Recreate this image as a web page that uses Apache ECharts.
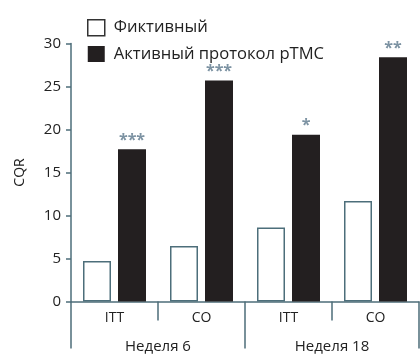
<!DOCTYPE html>
<html><head><meta charset="utf-8">
<script src="https://cdn.jsdelivr.net/npm/echarts@6/dist/echarts.min.js"></script>
<style>html,body{margin:0;padding:0;background:#fff}#c{width:420px;height:356px}</style>
</head><body><div id="c"></div>
<script>
const subCategories = ['ITT', 'CO', 'ITT', 'CO'];
const weekCategories = ['Неделя 6', 'Неделя 18'];
const seriesNames = ['Фиктивный', 'Активный протокол pTMC'];
const shamValues = [4.7, 6.45, 8.6, 11.7];
const activeValues = [17.7, 25.7, 19.4, 28.4];
const stars = ['***', '***', '*', '**'];
const yTicks = [0, 5, 10, 15, 20, 25, 30];

const axisColor = '#4d6e7a';
const font = 'Open Sans';
const chart = echarts.init(document.getElementById('c'));
chart.setOption({
  animation: false,
  textStyle: { fontFamily: font },
  legend: {
    orient: 'vertical', left: 82, top: 14, itemWidth: 17, itemHeight: 16, itemGap: 9,
    textStyle: { fontSize: 16.6, color: '#222', fontFamily: font, padding: [0, 0, 0, 4] },
    data: [
      { name: seriesNames[0], icon: 'rect', itemStyle: { color: '#fff', borderColor: '#333', borderWidth: 1.5 } },
      { name: seriesNames[1], icon: 'rect' }
    ]
  },
  grid: { left: 71, right: 1, top: 43.5, bottom: 54.5 },
  xAxis: [
    {
      type: 'category', data: subCategories, position: 'bottom',
      axisLine: { lineStyle: { color: axisColor, width: 1.5 } },
      axisTick: { show: true, interval: 0, length: 19, lineStyle: { color: axisColor, width: 1.5 } },
      axisLabel: { interval: 0, fontSize: 14, color: '#222', margin: 10, fontFamily: font }
    },
    {
      type: 'category', data: weekCategories, position: 'bottom', offset: 0,
      axisLine: { show: false },
      axisTick: { show: true, interval: 0, length: 47, lineStyle: { color: axisColor, width: 1.5 } },
      axisLabel: { interval: 0, fontSize: 15, color: '#222', margin: 38, fontFamily: font }
    }
  ],
  yAxis: {
    type: 'value', min: yTicks[0], max: yTicks[yTicks.length - 1], interval: 5,
    name: 'CQR', nameLocation: 'middle', nameGap: 44, nameRotate: 90,
    nameTextStyle: { fontSize: 14, color: '#222', fontFamily: font },
    axisLine: { show: true, lineStyle: { color: axisColor, width: 1.5 } },
    axisTick: { show: true, length: 5, lineStyle: { color: axisColor, width: 1.5 } },
    axisLabel: { fontSize: 15, color: '#222', margin: 10, fontFamily: font },
    splitLine: { show: false }
  },
  series: [
    {
      name: seriesNames[0], type: 'bar', xAxisIndex: 0, data: shamValues,
      barWidth: 28, barGap: '25%',
      itemStyle: { color: '#fff', borderColor: axisColor, borderWidth: 1.5 }
    },
    {
      name: seriesNames[1], type: 'bar', xAxisIndex: 0, data: activeValues,
      barWidth: 28,
      itemStyle: { color: '#231f20' },
      label: {
        show: true, position: 'top', distance: 1,
        formatter: p => stars[p.dataIndex],
        color: '#7d93a3', fontSize: 16, fontWeight: 'bold', fontFamily: font
      }
    }
  ]
});
</script></body></html>
